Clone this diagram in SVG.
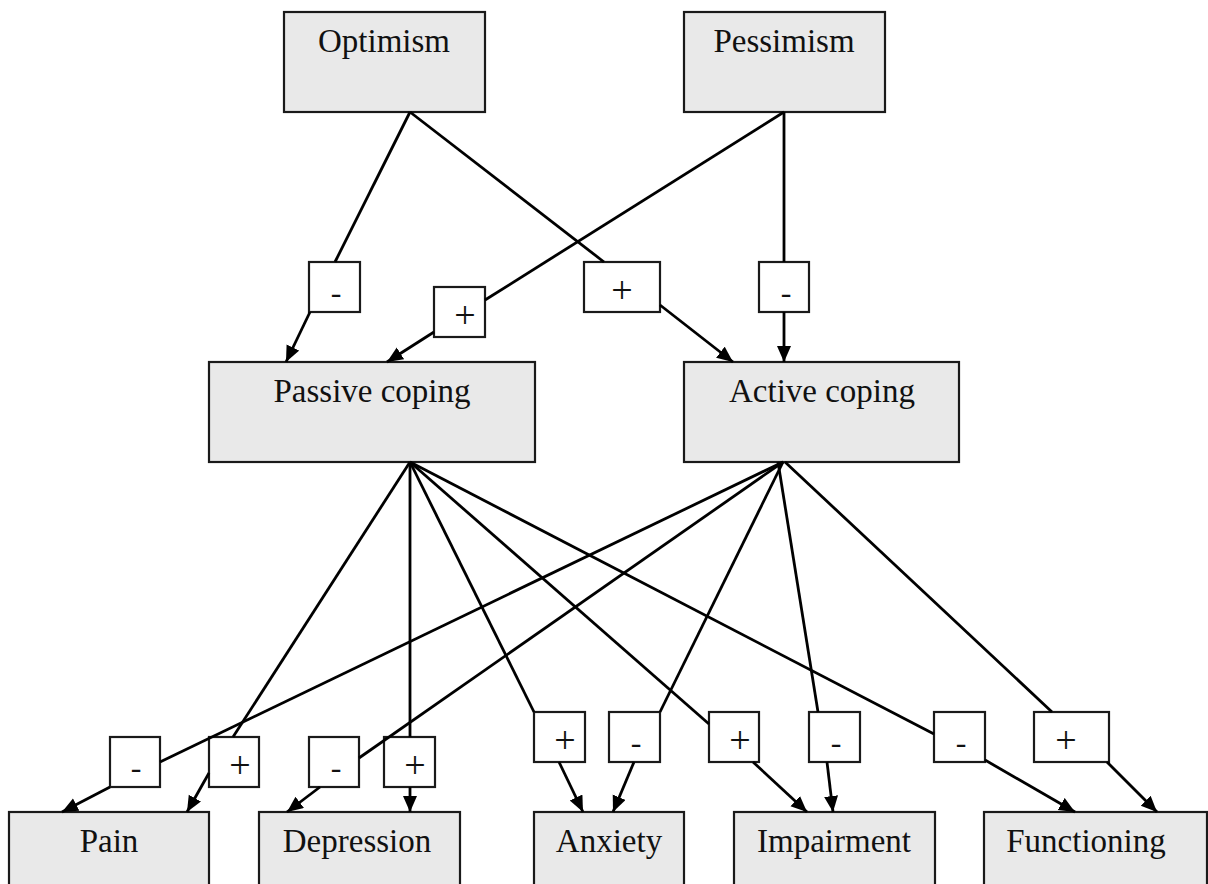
<svg xmlns="http://www.w3.org/2000/svg" width="1208" height="884" viewBox="0 0 1208 884">
<style>
.node rect{fill:#e9e9e9;stroke:#1a1a1a;stroke-width:2.2}
.lbl rect{fill:#fff;stroke:#1a1a1a;stroke-width:2.2}
text{font-family:"Liberation Serif","Times New Roman",serif;font-size:33px;fill:#111;text-anchor:middle}
.lbl text{font-size:32px}
.lbl text.p{font-size:38px}
.edges line{stroke:#000;stroke-width:2.8;fill:none}
.edges line.a{marker-end:url(#arr)}
</style>
<defs>
<marker id="arr" markerUnits="userSpaceOnUse" markerWidth="18" markerHeight="16" refX="16" refY="7" orient="auto">
<path d="M0,0 L16,7 L0,14 z" fill="#000"/>
</marker>
</defs>
<g id="n-optimism" class="node"><rect x="284" y="12" width="201" height="100"/><text x="384" y="52">Optimism</text></g>
<g id="n-pessimism" class="node"><rect x="684" y="12" width="201" height="100"/><text x="784" y="52">Pessimism</text></g>
<g id="n-passive" class="node"><rect x="209" y="362" width="326" height="100"/><text x="372" y="402">Passive coping</text></g>
<g id="n-active" class="node"><rect x="684" y="362" width="275" height="100"/><text x="822" y="402">Active coping</text></g>
<g id="n-pain" class="node"><rect x="9" y="812" width="200" height="100"/><text x="109" y="852">Pain</text></g>
<g id="n-depression" class="node"><rect x="259" y="812" width="201" height="100"/><text x="357" y="852">Depression</text></g>
<g id="n-anxiety" class="node"><rect x="534" y="812" width="150" height="100"/><text x="609" y="852">Anxiety</text></g>
<g id="n-impairment" class="node"><rect x="734" y="812" width="201" height="100"/><text x="834" y="852">Impairment</text></g>
<g id="n-functioning" class="node"><rect x="984" y="812" width="223" height="100"/><text x="1086" y="852">Functioning</text></g>

<g id="l1" class="lbl"><rect x="309" y="262" width="51" height="50"/><text x="336" y="303">-</text></g>
<g id="l2" class="lbl"><rect x="434" y="287" width="51" height="50"/><text class="p" x="465" y="328">+</text></g>
<g id="l3" class="lbl"><rect x="584" y="262" width="76" height="50"/><text class="p" x="622" y="303">+</text></g>
<g id="l4" class="lbl"><rect x="759" y="262" width="50" height="50"/><text x="786" y="303">-</text></g>
<g id="b1" class="lbl"><rect x="110" y="737" width="50" height="50"/><text x="136" y="778">-</text></g>
<g id="b2" class="lbl"><rect x="209" y="737" width="50" height="50"/><text class="p" x="240" y="778">+</text></g>
<g id="b3" class="lbl"><rect x="309" y="737" width="50" height="50"/><text x="336" y="778">-</text></g>
<g id="b4" class="lbl"><rect x="384" y="737" width="51" height="50"/><text class="p" x="415" y="778">+</text></g>
<g id="b5" class="lbl"><rect x="534" y="712" width="51" height="50"/><text class="p" x="565" y="753">+</text></g>
<g id="b6" class="lbl"><rect x="609" y="712" width="51" height="50"/><text x="636" y="753">-</text></g>
<g id="b7" class="lbl"><rect x="709" y="712" width="50" height="50"/><text class="p" x="740" y="753">+</text></g>
<g id="b8" class="lbl"><rect x="809" y="712" width="51" height="50"/><text x="836" y="753">-</text></g>
<g id="b9" class="lbl"><rect x="934" y="712" width="51" height="50"/><text x="961" y="753">-</text></g>
<g id="b10" class="lbl"><rect x="1034" y="712" width="75" height="50"/><text class="p" x="1066" y="753">+</text></g>

<g id="connectors" class="edges">
<line x1="410" y1="112" x2="335" y2="262"/>
<line x1="784" y1="112" x2="485" y2="300"/>
<line x1="410" y1="112" x2="604" y2="262"/>
<line x1="784" y1="112" x2="784" y2="262"/>
<line class="a" x1="310" y1="312" x2="286" y2="362"/>
<line class="a" x1="434" y1="332" x2="387" y2="362"/>
<line class="a" x1="660" y1="305" x2="733" y2="362"/>
<line class="a" x1="784" y1="312" x2="784" y2="362"/>

<line x1="783" y1="462" x2="160" y2="762"/>
<line x1="410" y1="462" x2="233" y2="737"/>
<line x1="783" y1="462" x2="359" y2="758"/>
<line x1="410" y1="462" x2="410" y2="737"/>
<line x1="410" y1="462" x2="534" y2="712"/>
<line x1="783" y1="462" x2="660" y2="712"/>
<line x1="410" y1="462" x2="709" y2="724"/>
<line x1="778" y1="462" x2="818" y2="712"/>
<line x1="410" y1="462" x2="934" y2="734"/>
<line x1="785" y1="462" x2="1052" y2="712"/>

<line class="a" x1="110" y1="787" x2="62" y2="812"/>
<line class="a" x1="209" y1="773" x2="187" y2="812"/>
<line class="a" x1="320" y1="787" x2="287" y2="812"/>
<line class="a" x1="410" y1="787" x2="410" y2="812"/>
<line class="a" x1="559" y1="762" x2="583" y2="812"/>
<line class="a" x1="634" y1="762" x2="613" y2="812"/>
<line class="a" x1="753" y1="762" x2="807" y2="812"/>
<line class="a" x1="827" y1="762" x2="833" y2="812"/>
<line class="a" x1="985" y1="760" x2="1075" y2="812"/>
<line class="a" x1="1107" y1="762" x2="1157" y2="812"/>
</g>
</svg>
